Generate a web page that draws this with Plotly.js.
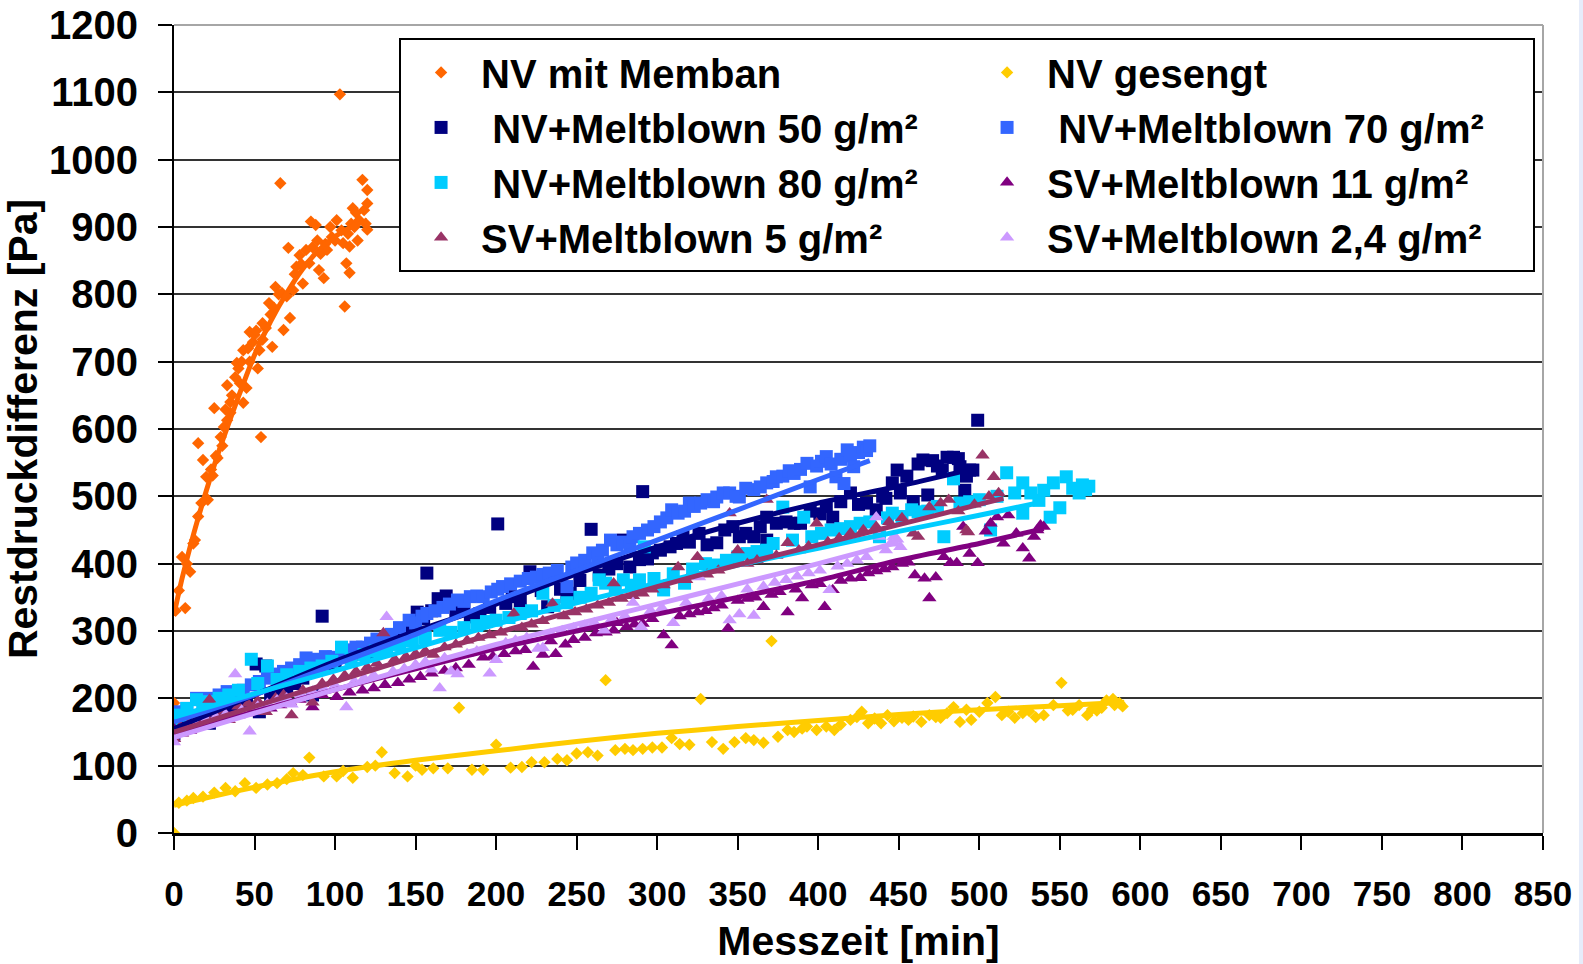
<!DOCTYPE html>
<html>
<head>
<meta charset="utf-8">
<script src="https://cdn.plot.ly/plotly-3.0.1.min.js"></script>
<style>html,body{margin:0;padding:0;background:#fff;}#chart{width:1583px;height:964px;}</style>
</head>
<body>
<div id="chart"></div>
<script>
// ---------- series names ----------
const seriesNames = [
  "NV mit Memban",
  "NV gesengt",
  "\u00a0NV+Meltblown 50 g/m²",
  "\u00a0NV+Meltblown 70 g/m²",
  "\u00a0NV+Meltblown 80 g/m²",
  "SV+Meltblown 11 g/m²",
  "SV+Meltblown 5 g/m²",
  "SV+Meltblown 2,4 g/m²"
];
const seriesColors = ["#FF6600","#FFCC00","#000080","#3366FF","#00CCFF","#800080","#993366","#CC99FF"];
const seriesSymbols = ["diamond","diamond","square","square","square","triangle-up","triangle-up","triangle-up"];

// ---------- axes ----------
const xTicks = [0,50,100,150,200,250,300,350,400,450,500,550,600,650,700,750,800,850];
const yTicks = [0,100,200,300,400,500,600,700,800,900,1000,1100,1200];
const xTitle = "Messzeit [min]";
const yTitle = "Restdruckdifferenz [Pa]";

// ---------- NV mit Memban ----------
const membanX = [0,1,3,5,7,8,10,12,13,15,15,17,18,20,21,23,24,25,26,27,29,30,31,32,33,33,35,35,36,38,39,40,41,42,43,43,45,46,47,47,49,50,51,52,53,54,55,55,57,59,60,61,62,63,65,66,67,68,70,71,72,74,75,76,78,79,80,82,84,85,86,88,89,90,91,93,94,95,97,98,100,101,103,104,105,106,107,108,109,109,110,111,112,113,114,115,117,118,120,120,120,119];
const membanY = [193,330,360,410,334,400,388,430,435,470,579,490,554,529,495,540,531,631,560,557,588,575,603,629,613,665,624,640,650,677,698,690,668,700,717,639,661,720,700,744,729,740,746,690,717,588,733,757,750,787,770,722,780,811,800,965,802,747,797,869,765,806,830,841,858,845,816,866,846,908,870,903,880,836,860,824,875,866,900,885,880,910,1097,895,876,782,846,890,832,871,905,928,900,921,880,910,970,925,955,935,896,905];

// ---------- NV gesengt ----------
const gesengtX = [0,3,8,12,18,25,32,38,44,51,58,64,70,74,80,84,93,101,105,111,120,125,129,137,145,150,154,161,170,177,185,192,200,209,216,222,230,238,244,250,257,263,268,274,280,285,291,297,303,309,314,320,327,334,341,348,355,360,366,371,375,381,385,390,393,399,405,410,414,420,424,427,431,435,439,443,447,452,456,459,464,469,473,476,480,484,488,492,495,500,505,510,514,518,522,527,531,535,540,546,551,555,558,562,567,570,573,576,579,583,584,587,589];
const gesengtY = [0,45,48,52,54,60,67,62,74,67,72,74,80,89,86,112,84,84,92,82,98,100,120,89,84,100,94,96,96,186,94,94,131,97,98,105,105,110,108,118,120,115,227,123,125,123,125,127,127,141,132,131,199,135,125,135,141,138,134,285,143,153,150,155,158,153,158,153,161,168,172,180,163,170,163,175,166,171,168,173,165,175,172,171,178,187,165,183,168,180,193,202,175,180,171,178,181,172,175,190,223,182,183,190,175,184,182,186,197,199,190,193,188];

// ---------- NV+Meltblown 50 ----------
const mb50X = [0,0,3,6,10,14,18,22,26,30,35,40,45,51,53,57,60,65,70,75,80,86,90,92,96,100,105,110,115,120,125,130,135,140,145,151,155,157,160,164,169,175,180,184,190,196,201,206,210,215,221,228,232,240,244,246,252,259,264,270,275,279,283,289,291,294,297,302,308,312,316,320,326,331,337,342,347,351,355,360,364,368,368,374,380,385,389,395,401,405,409,414,420,425,430,436,440,442,446,449,451,455,459,462,465,468,471,474,477,480,484,487,488,491,492,494,496,499];
const mb50Y = [148,165,158,170,165,172,170,163,180,178,185,190,195,251,180,248,205,210,215,222,230,205,250,322,248,255,262,265,270,268,280,285,290,295,300,328,318,386,330,348,352,330,336,321,326,335,459,341,351,345,388,360,336,362,351,356,375,451,383,392,400,435,395,406,507,407,416,420,425,430,440,432,445,428,431,450,455,440,445,440,455,469,435,460,462,460,460,478,474,485,469,492,505,488,490,480,500,497,520,539,505,530,492,548,554,502,553,545,539,558,558,556,544,509,530,539,539,613];

// ---------- NV+Meltblown 70 ----------
const mb70X = [0,0,4,8,14,18,22,28,33,38,43,48,53,58,63,68,73,78,82,86,89,94,99,104,108,113,117,122,126,130,135,140,146,150,154,157,162,167,171,176,180,184,188,192,197,201,204,209,215,220,225,229,233,238,244,247,250,255,260,263,266,271,275,279,283,285,289,294,298,302,306,309,313,317,320,323,327,331,335,337,341,345,349,351,355,360,364,368,372,374,378,382,385,389,393,395,399,402,405,408,411,414,416,418,420,422,425,428,430,432];
const mb70Y = [165,175,180,185,200,195,200,205,210,208,212,220,225,230,236,240,245,250,260,258,257,262,261,268,272,276,276,282,288,283,295,305,316,312,322,326,330,335,340,346,344,351,352,351,358,362,366,370,374,378,380,384,386,390,366,395,401,405,416,410,420,435,428,432,425,440,445,450,455,462,468,480,475,478,490,485,490,495,492,499,505,505,500,499,512,510,514,520,522,529,530,538,534,540,549,514,545,552,559,548,529,555,519,569,560,544,565,573,568,575];

// ---------- NV+Meltblown 80 ----------
const mb80X = [0,0,4,8,14,18,22,28,34,40,48,52,58,64,70,78,85,92,98,104,110,118,125,132,140,148,156,165,172,180,188,194,200,208,215,222,229,236,244,252,259,264,268,274,279,284,289,292,298,304,310,317,322,330,336,343,350,356,362,368,372,378,384,391,396,402,408,414,420,426,432,438,443,446,452,458,462,468,474,478,484,488,494,500,507,511,517,522,527,527,532,537,540,544,546,550,554,558,562,564,566,568];
const mb80Y = [165,155,175,185,198,192,195,200,205,212,258,222,248,228,235,240,245,248,255,276,258,265,270,274,280,285,290,301,298,305,308,314,316,320,326,330,356,338,342,350,356,376,371,362,376,368,376,425,378,361,385,371,392,400,398,405,410,415,418,420,430,484,435,469,440,445,450,452,455,460,462,440,468,475,470,480,477,478,485,440,526,490,492,495,450,500,535,505,520,475,505,494,509,469,520,483,529,512,505,517,510,515];

// ---------- SV+Meltblown 11 ----------
const sv11X = [0,0,5,10,16,22,28,34,40,46,51,53,60,66,72,78,86,92,101,109,117,124,131,139,146,153,160,168,175,183,192,198,205,212,218,223,229,234,237,243,248,255,262,268,273,275,281,286,291,297,304,309,314,320,325,330,335,340,344,350,356,361,366,371,376,381,386,390,396,401,404,409,414,420,426,431,436,441,446,452,456,460,466,469,473,478,482,486,490,494,499,504,507,511,515,518,523,527,531,534,536,538,540];
const sv11Y = [140,155,148,152,158,163,168,172,175,178,183,180,185,190,195,198,187,205,202,209,212,215,220,223,228,232,237,241,245,250,261,262,266,270,272,247,265,285,266,280,287,290,297,298,301,312,306,310,311,318,294,279,322,325,328,330,334,338,304,345,348,350,336,354,358,328,362,349,368,370,336,361,375,378,379,386,389,392,395,400,402,383,378,349,380,410,401,401,455,415,401,448,460,469,430,472,445,423,408,440,450,457,455];

// ---------- SV+Meltblown 5 ----------
const sv5X = [0,0,4,9,14,19,22,26,30,34,40,46,52,57,63,68,73,80,86,92,99,106,113,120,126,130,137,144,150,156,161,168,175,182,189,196,203,211,216,222,229,235,242,249,256,263,270,273,278,285,291,297,304,313,318,325,331,338,345,350,356,362,368,374,381,388,394,399,406,413,420,428,436,444,452,459,462,469,476,481,487,492,493,497,502,506,509,512];
const sv5Y = [140,150,158,162,170,175,198,178,182,168,188,192,196,180,200,205,175,212,194,222,228,234,240,246,252,297,258,262,266,270,265,276,280,286,290,294,298,326,305,310,315,341,322,328,332,338,342,371,348,352,356,362,368,395,376,410,384,390,475,420,400,405,495,412,431,420,426,460,432,438,445,450,455,462,468,445,440,484,490,495,478,450,447,488,561,500,529,505];

// ---------- SV+Meltblown 2,4 ----------
const sv24X = [0,0,4,9,14,20,26,32,38,42,47,52,58,64,70,73,79,86,93,100,107,112,118,124,132,136,143,150,156,160,165,168,172,176,182,188,196,200,206,212,219,226,229,234,241,248,255,261,267,272,280,285,290,296,303,310,318,326,332,340,345,351,356,360,366,373,380,387,394,401,407,412,418,424,430,436,438,442,445,447,449,451];
const sv24Y = [135,145,150,155,160,168,172,176,236,182,151,188,192,197,200,191,205,210,214,219,187,225,230,234,321,240,244,250,254,243,215,260,240,236,266,270,237,257,282,286,290,274,275,296,300,304,308,312,301,318,322,342,306,330,334,312,342,380,348,352,316,325,362,323,366,372,376,381,386,390,361,396,400,405,410,469,440,420,430,440,436,425];

// ---------- trend lines ----------
const membanTrendX = [0,5,10,15,20,25,30,40,50,60,70,80,90,100,110,120];
const membanTrendY = [325,378,425,468,508,546,582,648,710,760,802,838,866,886,900,910];
const gesengtTrendX = [0,25,50,100,150,200,250,300,350,400,450,500,550,590];
const gesengtTrendY = [41,55,68,91,108,122,136,148,158,167,176,183,189,194];
const mb50TrendX = [0,50,100,150,200,250,300,350,400,450,495];
const mb50TrendY = [155,205,255,300,340,385,425,460,490,515,540];
const mb70TrendX = [0,50,100,150,200,250,300,350,400,432];
const mb70TrendY = [165,205,250,295,345,390,435,480,525,553];
const mb80TrendX = [0,50,100,150,200,250,300,350,400,450,500,540];
const mb80TrendY = [172,207,241,275,310,342,371,398,423,448,472,492];
const sv11TrendX = [0,50,100,150,200,250,300,350,400,450,500,540];
const sv11TrendY = [148,180,213,244,274,300,325,350,375,405,430,452];
const sv5TrendX = [0,50,100,150,200,250,300,350,400,450,500,515];
const sv5TrendY = [150,188,225,262,297,331,366,398,428,458,488,497];
const sv24TrendX = [0,50,100,150,200,250,300,350,400,450];
const sv24TrendY = [142,178,213,247,280,310,340,370,400,432];

const pointsX = [membanX,gesengtX,mb50X,mb70X,mb80X,sv11X,sv5X,sv24X];
const pointsY = [membanY,gesengtY,mb50Y,mb70Y,mb80Y,sv11Y,sv5Y,sv24Y];
const trendX = [membanTrendX,gesengtTrendX,mb50TrendX,mb70TrendX,mb80TrendX,sv11TrendX,sv5TrendX,sv24TrendX];
const trendY = [membanTrendY,gesengtTrendY,mb50TrendY,mb70TrendY,mb80TrendY,sv11TrendY,sv5TrendY,sv24TrendY];

const FONT = "Liberation Sans, Arial, Helvetica, sans-serif";
const markerSizes = {"diamond": 9.5, "square": 13, "triangle-up": 12.5};

const traces = [];
for (let i = 0; i < seriesNames.length; i++) {
  traces.push({
    type: "scatter", mode: "markers", name: seriesNames[i],
    x: pointsX[i], y: pointsY[i],
    marker: {symbol: seriesSymbols[i], color: seriesColors[i], size: markerSizes[seriesSymbols[i]], line: {width: 0}},
    hoverinfo: "x+y"
  });
}
for (let i = 0; i < seriesNames.length; i++) {
  traces.push({
    type: "scatter", mode: "lines", showlegend: false,
    x: trendX[i], y: trendY[i],
    line: {color: seriesColors[i], width: 5, shape: "spline", smoothing: 0.6},
    hoverinfo: "skip"
  });
}

const layout = {
  width: 1583, height: 964,
  margin: {l: 174, r: 40, t: 25, b: 131},
  paper_bgcolor: "#ffffff", plot_bgcolor: "#ffffff",
  font: {family: FONT, color: "#000000", weight: "bold"},
  showlegend: true,
  legend: {
    orientation: "h", x: 0.1644, y: 0.984, xanchor: "left", yanchor: "top",
    bgcolor: "#ffffff", bordercolor: "#000000", borderwidth: 2,
    font: {family: FONT, size: 40, color: "#000000", weight: "bold"},
    itemwidth: 70, entrywidth: 481, entrywidthmode: "pixels",
    itemclick: false
  },
  xaxis: {
    range: [0, 850], tickvals: xTicks, ticktext: xTicks.map(String),
    showgrid: false, zeroline: false,
    showline: true, linecolor: "#000000", linewidth: 3,
    ticks: "outside", ticklen: 14, tickwidth: 2, tickcolor: "#000000",
    ticklabelstandoff: 14,
    tickfont: {family: FONT, size: 35, color: "#000000", weight: "bold"},
    title: {text: xTitle, font: {family: FONT, size: 41, color: "#000000", weight: "bold"}, standoff: 34},
    fixedrange: true
  },
  yaxis: {
    range: [0, 1200], tickvals: yTicks, ticktext: yTicks.map(String),
    showgrid: true, gridcolor: "#333333", gridwidth: 2,
    zeroline: false,
    showline: true, linecolor: "#000000", linewidth: 2,
    ticks: "outside", ticklen: 14, tickwidth: 2, tickcolor: "#000000",
    ticklabelstandoff: 12,
    tickfont: {family: FONT, size: 40, color: "#000000", weight: "bold"},
    title: {text: yTitle, font: {family: FONT, size: 41, color: "#000000", weight: "bold"}, standoff: 1},
    fixedrange: true
  },
  shapes: [
    {type: "line", xref: "paper", yref: "paper", x0: 0, x1: 1, y0: 1, y1: 1, line: {color: "#a6a6a6", width: 2}, layer: "above"},
    {type: "line", xref: "paper", yref: "paper", x0: 1, x1: 1, y0: 0, y1: 1, line: {color: "#a6a6a6", width: 2}, layer: "above"},
    {type: "rect", xref: "paper", yref: "paper", x0: 1.0263, x1: 1.06, y0: -0.3, y1: 1.1, line: {width: 0}, fillcolor: "#e6ecfa", layer: "below"}
  ]
};

Plotly.newPlot("chart", traces, layout, {displayModeBar: false, staticPlot: true});
</script>
</body>
</html>
